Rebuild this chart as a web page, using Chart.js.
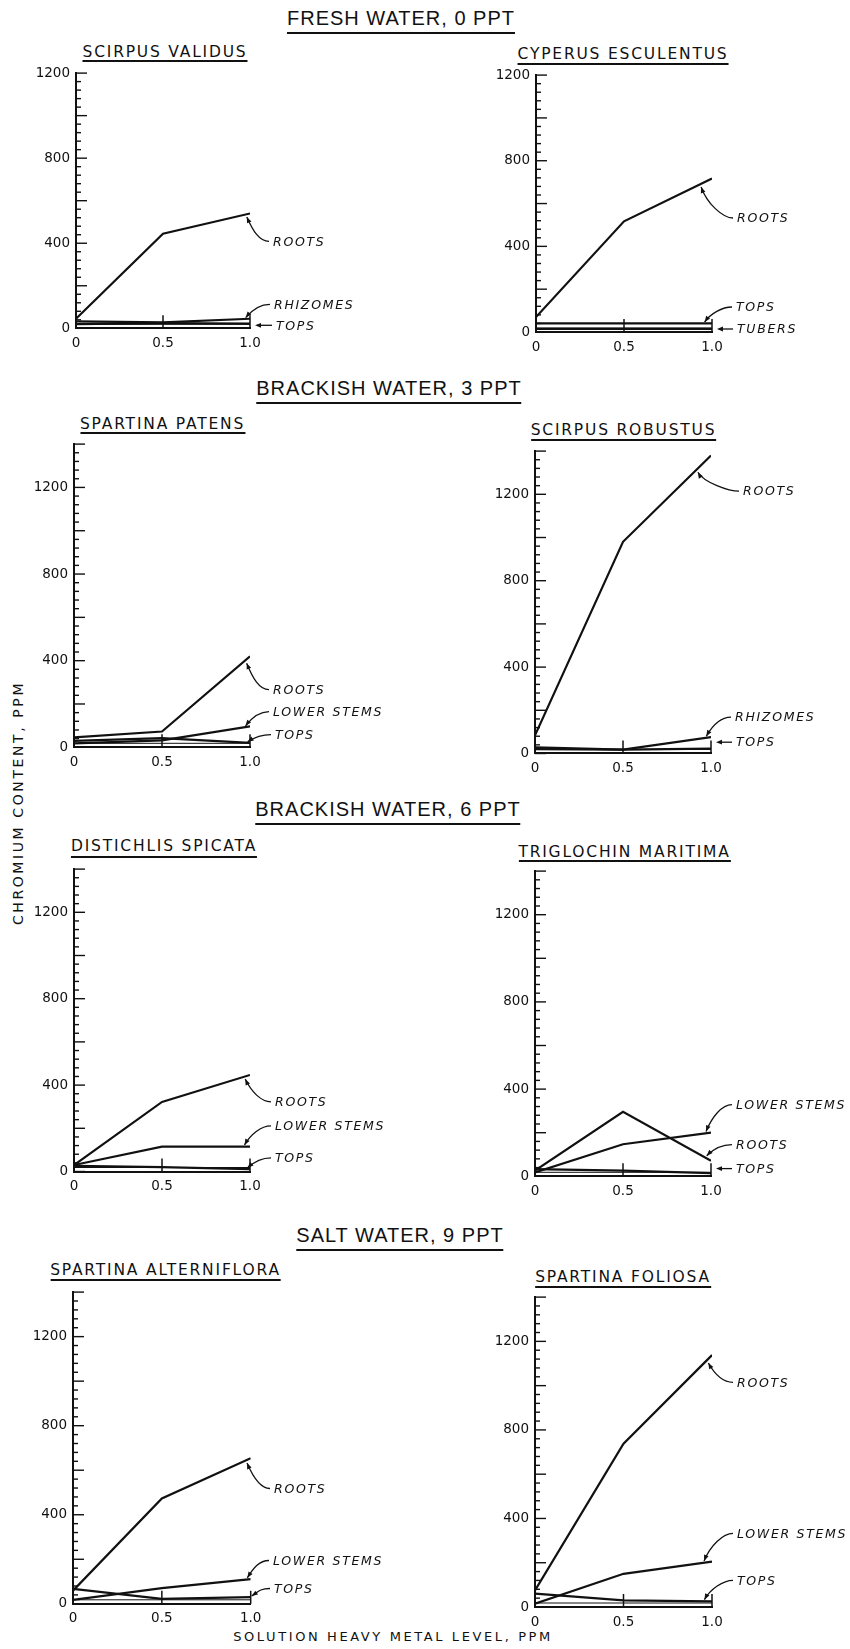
<!DOCTYPE html>
<html>
<head>
<meta charset="utf-8">
<script src="https://cdn.jsdelivr.net/npm/chart.js@4.4.1/dist/chart.umd.min.js"></script>
<style>
  html, body { margin: 0; padding: 0; background: #fff; }
  #page { position: relative; width: 850px; height: 1649px; overflow: hidden; background: #fff; color: #111; }
  .panel { position: absolute; }
  .ttl { position: absolute; transform: translateX(-50%); white-space: nowrap; border-bottom: 2px solid #111; }
  .section { font: 20px "Liberation Sans", Arial, sans-serif; line-height: 20px; letter-spacing: 1px; }
  .species { font: 15.5px "DejaVu Sans", sans-serif; line-height: 15px; letter-spacing: 1.8px; }
  .axis-title { position: absolute; white-space: nowrap; font: 14px "DejaVu Sans", sans-serif; line-height: 14px; }
</style>
</head>
<body>
<div id="page"></div>
<script>
// x values (solution heavy metal level, ppm) and tick labels
const levels = [0, 0.5, 1.0];
const xTickLabels = ['0', '0.5', '1.0'];
const yTickValues = [0, 400, 800, 1200];

// fresh water, 0 ppt
const validusRoots = [45, 445, 540];
const validusRhizomes = [33, 28, 45];
const validusTops = [20, 24, 22];
const esculentusRoots = [70, 517, 717];
const esculentusTops = [40, 40, 40];
const esculentusTubers = [15, 15, 15];

// brackish water, 3 ppt
const patensRoots = [46, 73, 420];
const patensLowerStems = [18, 32, 97];
const patensTops = [30, 42, 20];
const robustusRoots = [84, 980, 1380];
const robustusRhizomes = [28, 18, 76];
const robustusTops = [20, 18, 23];

// brackish water, 6 ppt
const spicataRoots = [30, 322, 447];
const spicataLowerStems = [30, 115, 115];
const spicataTops = [26, 20, 11];
const maritimaRoots = [26, 296, 71];
const maritimaLowerStems = [18, 147, 200];
const maritimaTops = [33, 26, 15];

// salt water, 9 ppt
const alternifloraRoots = [59, 473, 654];
const alternifloraLowerStems = [18, 70, 111];
const alternifloraTops = [67, 22, 30];
const foliosaRoots = [75, 738, 1138];
const foliosaLowerStems = [15, 150, 205];
const foliosaTops = [60, 30, 25];

const sections = [
    { text: 'FRESH WATER, 0 PPT', cx: 401, y: 18, ul: 33 },
    { text: 'BRACKISH WATER, 3 PPT', cx: 389, y: 388, ul: 403 },
    { text: 'BRACKISH WATER, 6 PPT', cx: 388, y: 809, ul: 824 },
    { text: 'SALT WATER, 9 PPT', cx: 400, y: 1235, ul: 1250 }
];

// frame = pixel box of the plot (top is the pixel of yMax), labels in page pixels
const panels = [
    { title: 'SCIRPUS VALIDUS', cx: 165, ty: 52, ul: 61, yMax: 1200,
      frame: { left: 76, right: 250, top: 70.7, bottom: 328 },
      series: [
        { name: 'ROOTS', values: validusRoots, at: 0.97, label: [273, 241] },
        { name: 'RHIZOMES', values: validusRhizomes, at: 0.96, label: [274, 304] },
        { name: 'TOPS', values: validusTops, straight: true, label: [276, 325] }
      ] },
    { title: 'CYPERUS ESCULENTUS', cx: 623, ty: 54, ul: 64, yMax: 1200,
      frame: { left: 536, right: 712, top: 73, bottom: 332 },
      series: [
        { name: 'ROOTS', values: esculentusRoots, at: 0.926, label: [737, 218] },
        { name: 'TOPS', values: esculentusTops, at: 0.943, label: [736, 307] },
        { name: 'TUBERS', values: esculentusTubers, straight: true, label: [737, 329] }
      ] },
    { title: 'SPARTINA PATENS', cx: 162.5, ty: 424, ul: 433, yMax: 1400,
      frame: { left: 74, right: 250, top: 442.4, bottom: 747.7 },
      series: [
        { name: 'ROOTS', values: patensRoots, at: 0.97, label: [273, 690] },
        { name: 'LOWER STEMS', values: patensLowerStems, at: 0.96, label: [273, 712] },
        { name: 'TOPS', values: patensTops, at: 0.97, label: [275, 735] }
      ] },
    { title: 'SCIRPUS ROBUSTUS', cx: 623.5, ty: 430, ul: 440, yMax: 1400,
      frame: { left: 535, right: 711, top: 448.8, bottom: 753.3 },
      series: [
        { name: 'ROOTS', values: robustusRoots, at: 0.91, label: [743, 491] },
        { name: 'RHIZOMES', values: robustusRhizomes, at: 0.96, label: [735, 717] },
        { name: 'TOPS', values: robustusTops, straight: true, label: [736, 742] }
      ] },
    { title: 'DISTICHLIS SPICATA', cx: 164, ty: 846, ul: 857, yMax: 1400,
      frame: { left: 74, right: 250, top: 867.2, bottom: 1171.7 },
      series: [
        { name: 'ROOTS', values: spicataRoots, at: 0.96, label: [275, 1102] },
        { name: 'LOWER STEMS', values: spicataLowerStems, at: 0.955, label: [275, 1126] },
        { name: 'TOPS', values: spicataTops, at: 0.97, label: [275, 1158] }
      ] },
    { title: 'TRIGLOCHIN MARITIMA', cx: 624.5, ty: 852, ul: 861, yMax: 1400,
      frame: { left: 535, right: 711, top: 869.4, bottom: 1176.7 },
      series: [
        { name: 'LOWER STEMS', values: maritimaLowerStems, at: 0.96, label: [736, 1105] },
        { name: 'ROOTS', values: maritimaRoots, at: 0.96, label: [736, 1145] },
        { name: 'TOPS', values: maritimaTops, straight: true, label: [736, 1169] }
      ] },
    { title: 'SPARTINA ALTERNIFLORA', cx: 165.5, ty: 1270, ul: 1280, yMax: 1400,
      frame: { left: 73, right: 250.7, top: 1289.5, bottom: 1603.3 },
      series: [
        { name: 'ROOTS', values: alternifloraRoots, at: 0.968, label: [274, 1488] },
        { name: 'LOWER STEMS', values: alternifloraLowerStems, at: 0.968, label: [273, 1560] },
        { name: 'TOPS', values: alternifloraTops, at: 0.99, label: [274, 1588] }
      ] },
    { title: 'SPARTINA FOLIOSA', cx: 623, ty: 1277, ul: 1287, yMax: 1400,
      frame: { left: 535, right: 712, top: 1294.7, bottom: 1606.7 },
      series: [
        { name: 'ROOTS', values: foliosaRoots, at: 0.966, label: [737, 1382] },
        { name: 'LOWER STEMS', values: foliosaLowerStems, at: 0.943, label: [737, 1533] },
        { name: 'TOPS', values: foliosaTops, at: 0.943, label: [737, 1580] }
      ] }
];

const INK = '#111';
const Y_W = 50, PAD_T = 12, X_H = 26, PAD_R = 136;
const page = document.getElementById('page');

function addTitle(text, cls, cx, y, ul, h) {
    const d = document.createElement('div');
    d.className = 'ttl ' + cls;
    d.textContent = text;
    d.style.left = cx + 'px';
    d.style.top = (y - h / 2) + 'px';
    d.style.paddingBottom = Math.max(0, ul - 1 - (y + h / 2)) + 'px';
    page.appendChild(d);
}

sections.forEach(s => addTitle(s.text, 'section', s.cx, s.y, s.ul, 20));

// axis titles
const yTitle = document.createElement('div');
yTitle.className = 'axis-title';
yTitle.textContent = 'CHROMIUM CONTENT, PPM';
yTitle.style.letterSpacing = '2.6px';
yTitle.style.left = '18px';
yTitle.style.top = '803px';
yTitle.style.transform = 'translate(-50%, -50%) rotate(-90deg)';
page.appendChild(yTitle);

const xTitle = document.createElement('div');
xTitle.className = 'axis-title';
xTitle.textContent = 'SOLUTION HEAVY METAL LEVEL, PPM';
xTitle.style.font = '13px "DejaVu Sans", sans-serif';
xTitle.style.letterSpacing = '2.6px';
xTitle.style.left = '393px';
xTitle.style.top = '1636px';
xTitle.style.transform = 'translate(-50%, -50%)';
page.appendChild(xTitle);

function valueAt(values, x) {
    for (let i = 0; i < levels.length - 1; i++) {
        if (x <= levels[i + 1]) {
            const t = (x - levels[i]) / (levels[i + 1] - levels[i]);
            return values[i] + (values[i + 1] - values[i]) * t;
        }
    }
    return values[values.length - 1];
}

function arrowHead(ctx, fx, fy, tx, ty) {
    const a = Math.atan2(ty - fy, tx - fx);
    ctx.beginPath();
    ctx.moveTo(tx, ty);
    ctx.lineTo(tx - 6 * Math.cos(a) + 2.4 * Math.sin(a), ty - 6 * Math.sin(a) - 2.4 * Math.cos(a));
    ctx.lineTo(tx - 6 * Math.cos(a) - 2.4 * Math.sin(a), ty - 6 * Math.sin(a) + 2.4 * Math.cos(a));
    ctx.closePath();
    ctx.fill();
}

// inward ticks, bottom box and the leader labels
const decor = {
    id: 'decor',
    afterDraw(chart) {
        const p = chart.config.options.plugins.decor;
        const ctx = chart.ctx, ca = chart.chartArea;
        const xs = chart.scales.x, ys = chart.scales.y;
        ctx.save();
        ctx.strokeStyle = INK;
        ctx.fillStyle = INK;
        ctx.lineWidth = 1.4;
        for (let v = 0; v <= p.yMax; v += 40) {
            const py = ys.getPixelForValue(v);
            const len = v % 200 === 0 ? 11 : 5;
            ctx.beginPath();
            ctx.moveTo(ca.left, py);
            ctx.lineTo(ca.left + len, py);
            ctx.stroke();
        }
        // bottom strip and upright ticks
        const y0 = ys.getPixelForValue(0);
        ctx.lineWidth = 1;
        ctx.beginPath();
        ctx.moveTo(ca.left, y0 - 4);
        ctx.lineTo(ca.right, y0 - 4);
        ctx.stroke();
        ctx.lineWidth = 1.5;
        [0.5, 1.0].forEach(v => {
            const px = xs.getPixelForValue(v);
            ctx.beginPath();
            ctx.moveTo(px, y0);
            ctx.lineTo(px, y0 - 13);
            ctx.stroke();
        });
        // labels
        ctx.font = 'italic 12.5px "DejaVu Sans", sans-serif';
        ctx.letterSpacing = '1.7px';
        ctx.textBaseline = 'middle';
        ctx.textAlign = 'left';
        ctx.lineWidth = 1.3;
        p.series.forEach(s => {
            const lx = s.label[0] - p.ox, ly = s.label[1] - p.oy;
            ctx.fillText(s.name, lx, ly + 1);
            const sx = lx - 4, sy = ly;
            if (s.straight) {
                const tx = ca.right + 5;
                ctx.beginPath();
                ctx.moveTo(sx, sy);
                ctx.lineTo(tx + 4, sy);
                ctx.stroke();
                arrowHead(ctx, sx, sy, tx, sy);
                return;
            }
            let tx = xs.getPixelForValue(s.at);
            let ty = ys.getPixelForValue(valueAt(s.values, s.at));
            const d = Math.hypot(sx - tx, sy - ty) || 1;
            tx += (sx - tx) / d * 3;
            ty += (sy - ty) / d * 3;
            const c1x = sx - 10, c1y = sy;
            const c2x = tx + 6, c2y = ty + (sy - ty) * 0.55;
            ctx.beginPath();
            ctx.moveTo(sx, sy);
            ctx.bezierCurveTo(c1x, c1y, c2x, c2y, tx, ty);
            ctx.stroke();
            arrowHead(ctx, c2x, c2y, tx, ty);
        });
        ctx.restore();
    }
};

panels.forEach(p => {
    addTitle(p.title, 'species', p.cx, p.ty, p.ul, 15);

    const f = p.frame;
    const ox = f.left - Y_W, oy = f.top - PAD_T;
    const w = Math.round(Y_W + (f.right - f.left) + PAD_R);
    const h = Math.round(PAD_T + (f.bottom - f.top) + X_H);
    const box = document.createElement('div');
    box.className = 'panel';
    box.style.left = ox + 'px';
    box.style.top = oy + 'px';
    box.style.width = w + 'px';
    box.style.height = h + 'px';
    const cv = document.createElement('canvas');
    cv.width = w;
    cv.height = h;
    cv.style.width = w + 'px';
    cv.style.height = h + 'px';
    box.appendChild(cv);
    page.appendChild(box);

    const padR = w - Y_W - (f.right - f.left);
    const padB = h - PAD_T - (f.bottom - f.top) - X_H;

    new Chart(cv.getContext('2d'), {
        type: 'line',
        data: {
            datasets: p.series.map(s => ({
                label: s.name,
                data: levels.map((x, i) => ({ x: x, y: s.values[i] })),
                borderColor: INK, borderWidth: 2.2, pointRadius: 0, tension: 0, fill: false
            }))
        },
        options: {
            responsive: false, animation: false, devicePixelRatio: 1,
            layout: { padding: { left: 0, top: PAD_T, right: padR, bottom: padB } },
            plugins: {
                legend: { display: false }, tooltip: { enabled: false },
                decor: { yMax: p.yMax, series: p.series, ox: ox, oy: oy }
            },
            scales: {
                x: {
                    type: 'linear', min: 0, max: 1,
                    afterBuildTicks: s => { s.ticks = levels.map(v => ({ value: v })); },
                    ticks: {
                        callback: (v) => xTickLabels[levels.indexOf(v)],
                        color: INK, font: { family: 'DejaVu Sans', size: 13.5 }, padding: 7, maxRotation: 0
                    },
                    grid: { display: false, drawTicks: false },
                    border: { display: true, color: INK, width: 2 },
                    afterFit: s => { s.height = X_H; }
                },
                y: {
                    type: 'linear', min: 0, max: p.yMax,
                    afterBuildTicks: s => { s.ticks = yTickValues.map(v => ({ value: v })); },
                    ticks: {
                        callback: (v) => String(v),
                        color: INK, font: { family: 'DejaVu Sans', size: 13.5 }, padding: 6
                    },
                    grid: { display: false, drawTicks: false },
                    border: { display: true, color: INK, width: 2 },
                    afterFit: s => { s.width = Y_W; }
                }
            }
        },
        plugins: [decor]
    });
});
</script>
</body>
</html>
